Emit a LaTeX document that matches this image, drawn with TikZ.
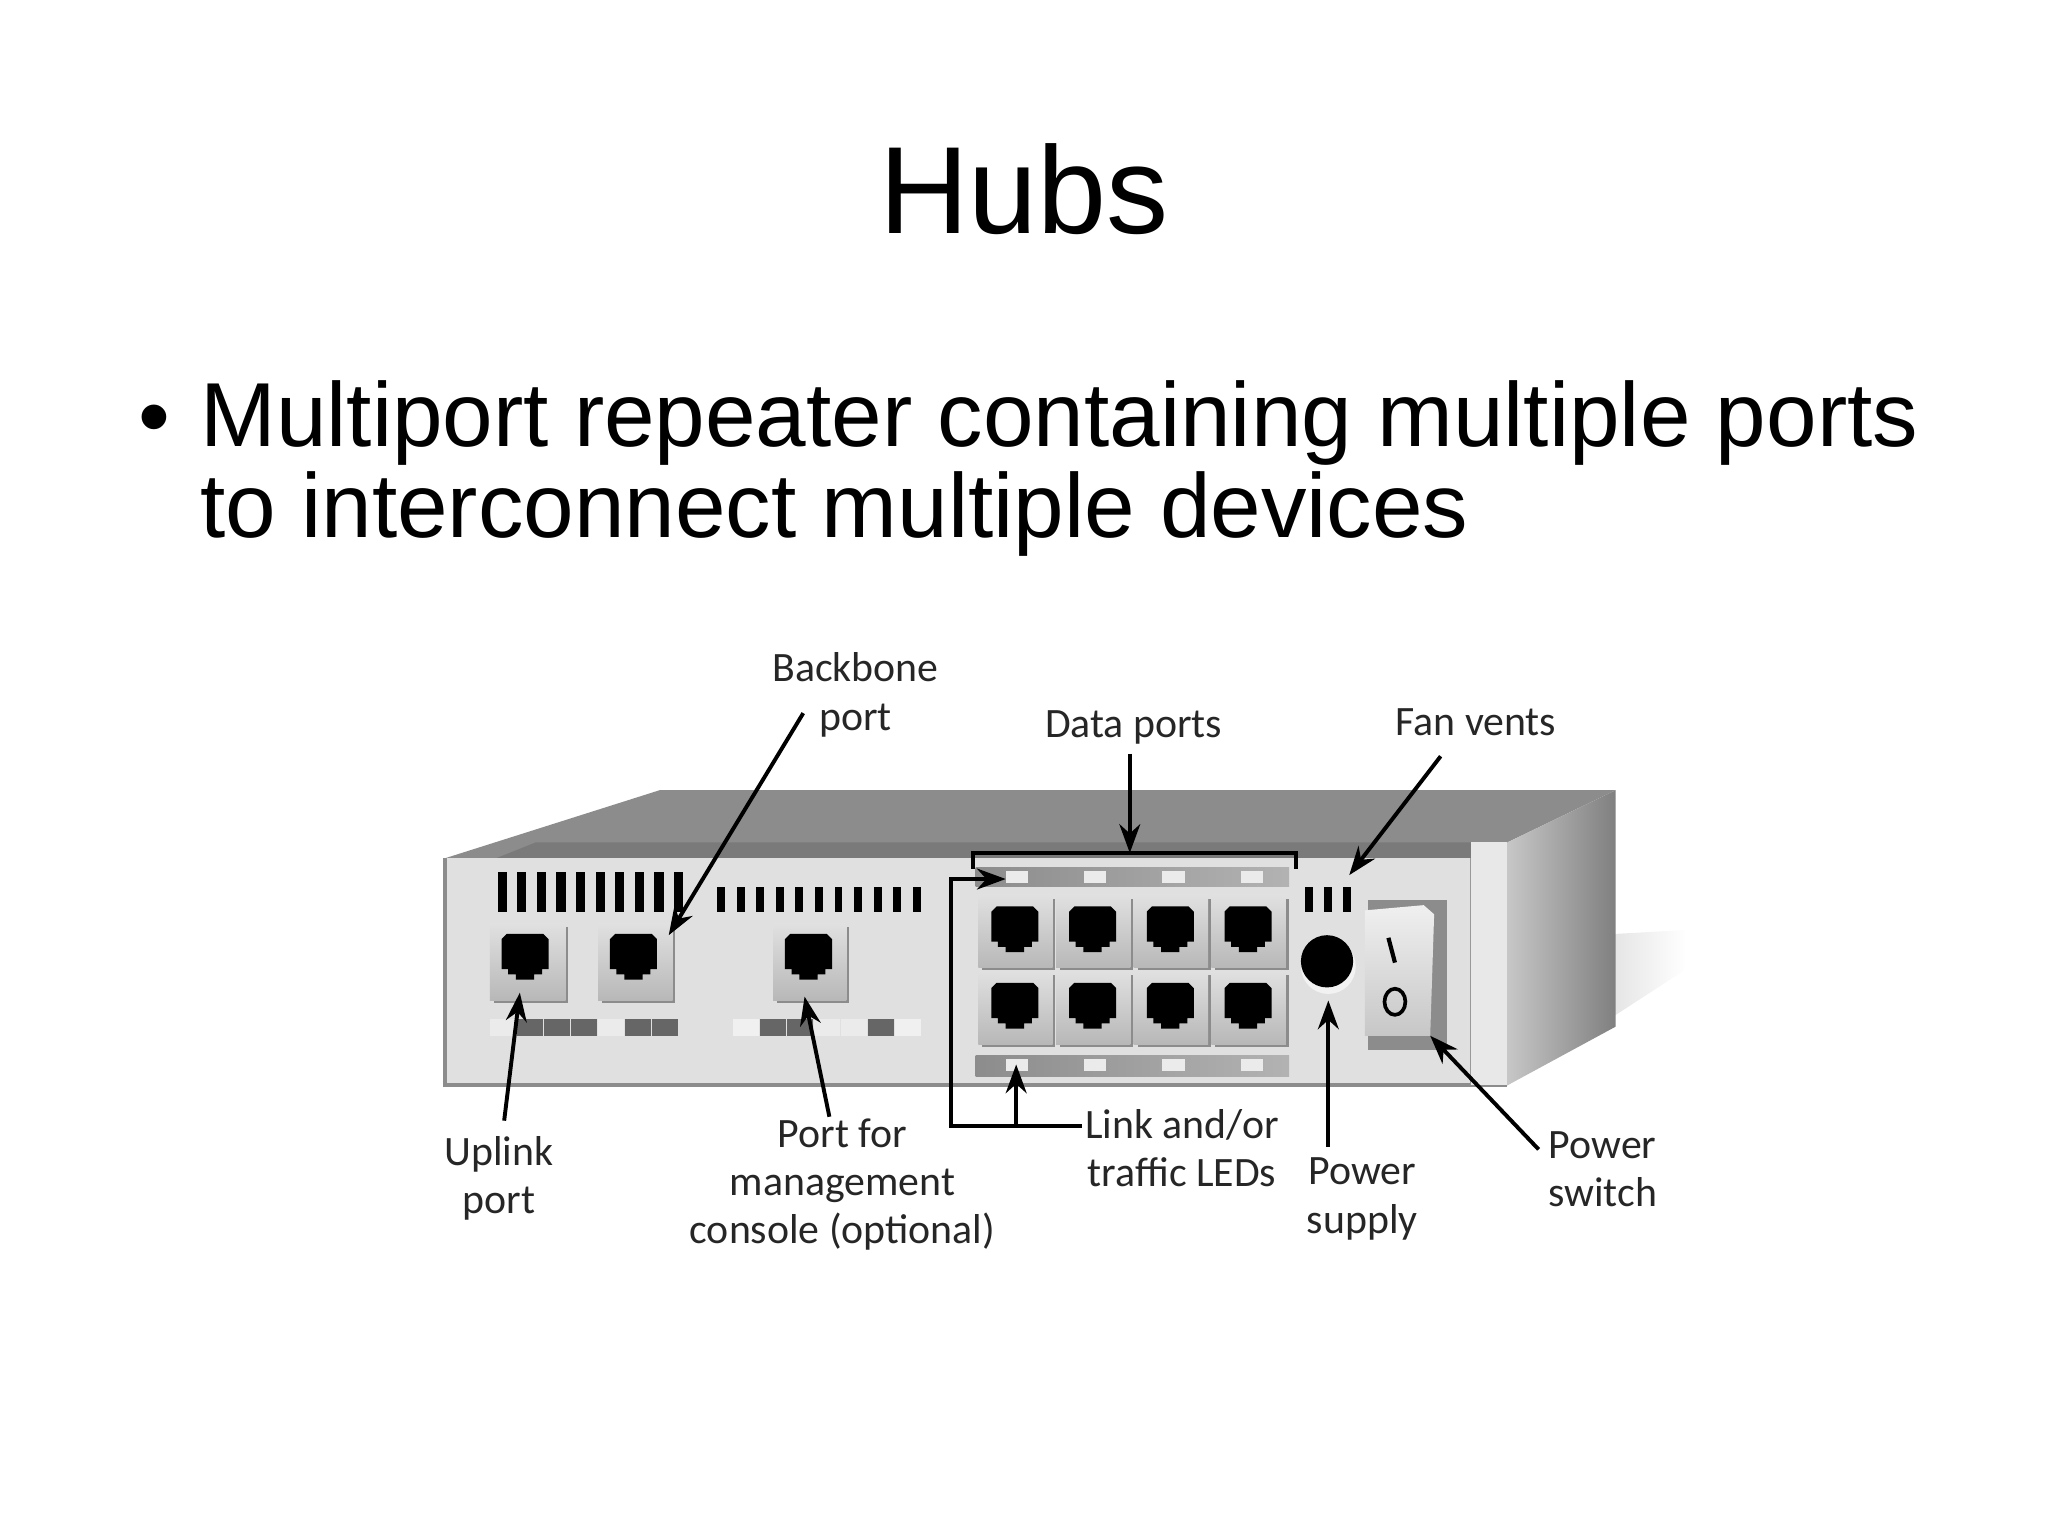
\documentclass[tikz,border=0pt]{standalone}
\usepackage{fontspec}
\setmainfont{Liberation Sans}
\newfontfamily\lblfont{Carlito}
\usetikzlibrary{arrows.meta}
\tikzset{
  lbl/.style={font=\lblfont\fontsize{16}{18.5}\selectfont, align=center, text=black!85, inner sep=1pt},
  arr/.style={line width=1.5pt, -{Stealth[length=11pt,width=8pt]}},
}
\newcommand{\myjack}[2]{%
  \begin{scope}[shift={(#1,#2)}]
    \fill[black] (-18,-15)--(-14,-19)--(14,-19)--(18,-15)--(18,8)--(13,8)--(13,12)--(7,12)--(7,16)--(-7,16)--(-7,12)--(-13,12)--(-13,8)--(-18,8)--cycle;
  \end{scope}}
\newcommand{\myhousing}[4]{%
  \fill[black!45] (#1+3,#2+3) rectangle (#3+2,#4+2);
  \shade[top color=black!12, bottom color=black!28] (#1,#2) rectangle (#3,#4);}
\begin{document}
\begin{tikzpicture}[x=0.5pt,y=-0.5pt]
\useasboundingbox (0,0) rectangle (1568,1176);
% title and bullet
\node (title) at (784,145) {\fontsize{47.5}{55}\selectfont Hubs};
\node (bullet) at (118,326) {\fontsize{34.8}{36}\selectfont\textbullet};
\node[anchor=north west, align=left, inner sep=0pt, font=\fontsize{34.8}{35}\selectfont] (txt) at (153,291) {Multiport repeater containing multiple ports\\to interconnect multiple devices};
% shadow on the right
\shade[left color=black!25, right color=white] (1237,715)--(1291,712)--(1291,742)--(1154,831)--(1154,790)--cycle;
% top face
\fill[black!45] (341,657)--(505,605)--(1237,605)--(1154,645)--(1154,657)--cycle;
\fill[black!52] (410,645)--(1154,645)--(1154,657)--(380,657)--cycle;
% side face
\shade[left color=black!22, right color=black!50] (1154,645)--(1237,605)--(1237,786)--(1154,831)--cycle;
% front face
\fill[black!12] (341,657) rectangle (1154,831);
\draw[black!45, line width=1.5pt] (341,657) -- (341,831) -- (1154,831);
\fill[black!9] (1126,645) rectangle (1154,831);
\draw[black!40, line width=0.6pt] (1126,657) -- (1126,831);
% left vents
\foreach \i in {0,...,9} \fill[black] (381+15*\i,668) rectangle ++(7,30);
\foreach \i in {0,...,10} \fill[black] (549+15*\i,679) rectangle ++(6,19);
% left ports
\myhousing{375}{707}{433}{766}
\myhousing{458}{707}{515}{766}
\myhousing{592}{707}{648}{766}
\myjack{402}{734}\myjack{485}{734}\myjack{619}{734}
% left LED strips
\foreach \c [count=\i from 0] in {8,60,60,60,8,60,60} \fill[black!\c] (375+20.7*\i,780) rectangle ++(20,13);
\foreach \c [count=\i from 0] in {6,60,60,8,8,60,6} \fill[black!\c] (561+20.7*\i,780) rectangle ++(20,13);
% data port block
\shade[left color=black!45, right color=black!30] (747,664) rectangle (987,679);
\shade[left color=black!45, right color=black!30] (747,808) rectangle (987,824);
\foreach \i in {0,...,3} {
  \fill[black!8] (770+60*\i,667) rectangle ++(17,9);
  \fill[black!8] (770+60*\i,811) rectangle ++(17,9);
}
\foreach \i in {0,...,3} \foreach \j in {0,1} {
  \myhousing{749+59.5*\i}{685+58.5*\j}{806+59.5*\i}{741+58.5*\j}
  \myjack{777+59.5*\i}{713+58.5*\j}
}
% bracket
\draw[line width=1.5pt] (745,665) -- (745,653) -- (992,653) -- (992,665);
% fan vents
\foreach \i in {0,1,2} \fill[black] (999+14.5*\i,679) rectangle ++(6,19);
% power supply
\fill[black!5] (1017,740) circle (21);
\fill[black] (1016,736) circle (20);
% power switch
\fill[black!45] (1047,689) rectangle (1108,804);
\shade[top color=black!6, bottom color=black!22] (1045,697) -- (1090,693) -- (1098,700) -- (1095,793) -- (1045,793) -- cycle;
\draw[line width=1.6pt] (1063,718) -- (1068,737);
\draw[line width=1.4pt] (1068,767) ellipse (8 and 10);
% labels
\node[lbl] (bb) at (655,532) {Backbone\\port};
\node[lbl] (dp) at (868,557) {Data ports};
\node[lbl] (fv) at (1130,553) {Fan vents};
\node[lbl] (up) at (382,902) {Uplink\\port};
\node[lbl] (mg) at (645,907) {Port for\\management\\console (optional)};
\node[lbl] (led) at (905,879) {Link and/or\\traffic LEDs};
\node[lbl] (ps) at (1043,918) {Power\\supply};
\node[lbl] (sw) at (1227,895) {Power\\switch};
% arrow end points
\coordinate (bbT) at (512,716);
\coordinate (dpT) at (865,653);
\coordinate (fvT) at (1033,670);
\coordinate (upT) at (398,760);
\coordinate (mgT) at (616,763);
\coordinate (ledT) at (770,673);
\coordinate (ledB) at (778,815);
\coordinate (psT) at (1017,766);
\coordinate (swT) at (1095,793);
\coordinate (ledC) at (728,862);
\coordinate (ledU) at (728,673);
% arrows
\draw[arr] (615,546) -- (bbT);
\draw[arr] (865,577) -- (dpT);
\draw[arr] (1103,579) -- (fvT);
\draw[arr] (386,858) -- (upT);
\draw[arr] (635,855) -- (mgT);
\draw[arr] (led.west |- ledC) -- (ledC) -- (ledU) -- (ledT);
\draw[arr] (778,862) -- (ledB);
\draw[arr] (1017,878) -- (psT);
\draw[arr] (1178,880) -- (swT);
\end{tikzpicture}
\end{document}
